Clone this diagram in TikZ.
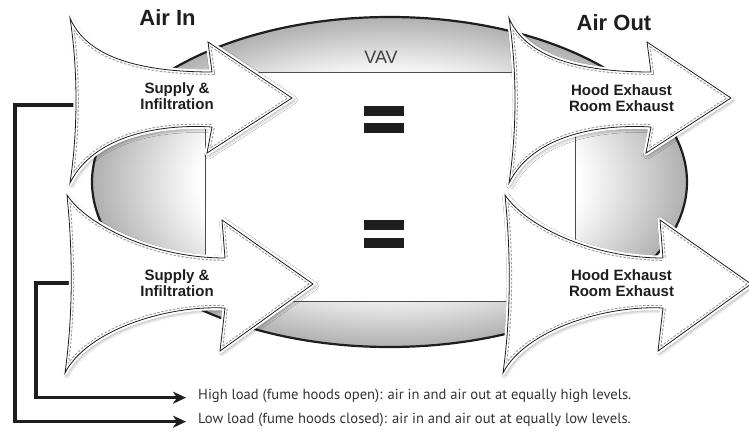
\documentclass[tikz,border=0pt]{standalone}
\usepackage{fontspec}
\setmainfont{Liberation Sans}
\newfontfamily\notefont{PT Sans}
\usetikzlibrary{arrows.meta,shadows.blur}

\definecolor{ink}{HTML}{1E1E1E}
\definecolor{dashgray}{HTML}{9A9A9A}
\definecolor{rim}{HTML}{B0B0B0}
\pgfdeclareradialshading{roomshade}{\pgfpoint{0bp}{0bp}}{%
  color(0bp)=(white); color(16bp)=(white); color(25bp)=(rim); color(50bp)=(rim)}

\def\shapeA{(0,0) .. controls (15,35) and (60,54) .. (142,54) -- (138,24) -- (222,80) -- (137,135) -- (142,109) .. controls (95,106) and (25,115) .. (0,165) .. controls (8,112) and (8,52) .. cycle}
\def\shapeB{(0,0) .. controls (20,30) and (85,63) .. (158,63) -- (155,25) -- (246,89) -- (153,156) -- (158,113) .. controls (100,110) and (20,135) .. (-2,178) .. controls (6,120) and (6,60) .. cycle}

\newcommand\flowarrow[2]{%
  \begin{scope}[shift={#1}]
    \path[blur shadow={shadow xshift=1.5pt, shadow yshift=-2pt, shadow blur radius=4pt, shadow opacity=50},
          fill=white, draw=white, line width=5pt, line join=round] #2;
    \begin{scope}
      \clip #2;
      \draw[dashgray, dash pattern=on 2.5pt off 1.5pt, line width=5.6pt] #2;
      \draw[white, line width=3.6pt] #2;
    \end{scope}
    \draw[ink, line width=0.8pt, line join=miter] #2;
  \end{scope}}

\tikzset{
  conn/.style={ink, line width=3.4pt, -{Stealth[length=13pt, width=12pt, inset=4pt]}},
  bar/.style={fill=ink, inner sep=0pt, minimum width=40pt, minimum height=10pt},
  lbl/.style={font=\bfseries\fontsize{15}{16}\selectfont, align=center, text=ink, inner sep=0pt},
  ttl/.style={font=\bfseries\fontsize{22}{22}\selectfont, text=ink, inner sep=0pt},
  note/.style={font=\notefont\fontsize{14.6}{14.6}\selectfont, text=black!80, inner sep=0pt, anchor=base west}
}

\begin{document}
\begin{tikzpicture}[x=1pt,y=-1pt]
\useasboundingbox (0,0) rectangle (749,433);

% room (ellipse)
\path[draw=ink, line width=2.2pt, shading=roomshade]
  (389.5,182) ellipse [x radius=297.5pt, y radius=165pt];
\draw[fill=white, draw=black!70, line width=0.9pt] (205,72) rectangle (575,301);

\node[font=\fontsize{18}{18}\selectfont, text=black!75, inner sep=0pt] (vav) at (381,57) {VAV};

\node[bar] (eq1a) at (384,111) {};
\node[bar] (eq1b) at (384,128) {};
\node[bar] (eq2a) at (384,225) {};
\node[bar] (eq2b) at (384,243) {};

% legend texts
\node[note] (hightxt) at (198,399) {High load (fume hoods open): air in and air out at equally high levels.};
\node[note] (lowtxt) at (198,423) {Low load (fume hoods closed): air in and air out at equally low levels.};

% connectors
\coordinate (lowstart) at (85,105);
\coordinate (lowcorner) at (15,105);
\coordinate (lowend) at (186,421.7);
\coordinate (highstart) at (80,283);
\coordinate (highcorner) at (36,283);
\coordinate (highend) at (186,397.7);
\draw[conn] (lowstart) -- (lowcorner) |- (lowend);
\draw[conn] (highstart) -- (highcorner) |- (highend);

% flow arrows
\flowarrow{(70,18)}{\shapeA}
\flowarrow{(509,18)}{\shapeA}
\flowarrow{(67,195)}{\shapeB}
\flowarrow{(505,195)}{\shapeB}

\node[lbl] (in1) at (177,96.5) {Supply \&\\Infiltration};
\node[lbl] (out1) at (621.5,98) {Hood Exhaust\\Room Exhaust};
\node[lbl] (in2) at (177,283) {Supply \&\\Infiltration};
\node[lbl] (out2) at (621.5,283) {Hood Exhaust\\Room Exhaust};

\node[ttl] (airin) at (167.5,17.5) {Air In};
\node[ttl] (airout) at (614,22.5) {Air Out};
\end{tikzpicture}
\end{document}
